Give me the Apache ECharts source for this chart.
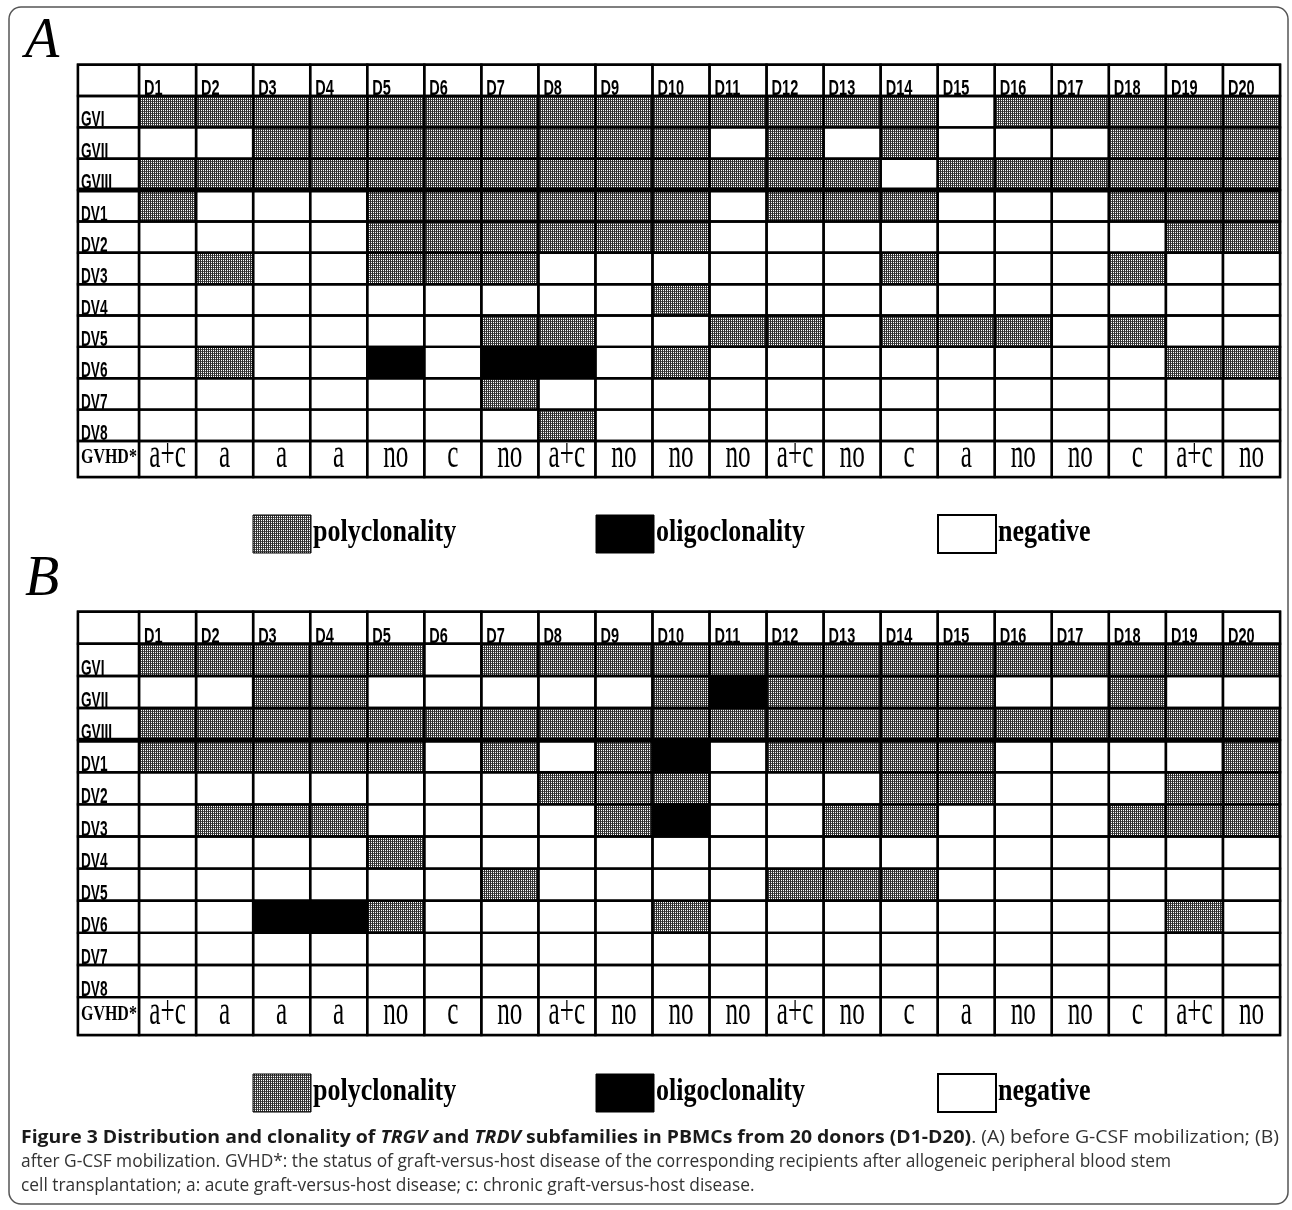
<!DOCTYPE html>
<html>
<head>
<meta charset="utf-8">
<script src="https://cdn.jsdelivr.net/npm/echarts@6/dist/echarts.min.js"></script>
<style>
html,body{margin:0;padding:0;background:#fff;}
#chart{width:1292px;height:1210px;}
</style>
</head>
<body>
<div id="chart"></div>
<script>
// ---------------- DATA ----------------
const donors = ['D1','D2','D3','D4','D5','D6','D7','D8','D9','D10','D11','D12','D13','D14','D15','D16','D17','D18','D19','D20'];
const rowLabels = ['GVI','GVII','GVIII','DV1','DV2','DV3','DV4','DV5','DV6','DV7','DV8'];
const gvhdLabel = 'GVHD*';
const gvhdStatus = ['a+c','a','a','a','no','c','no','a+c','no','no','no','a+c','no','c','a','no','no','c','a+c','no'];
const panelLetters = ['A','B'];
const legendLabels = ['polyclonality','oligoclonality','negative'];
// 0 = negative, 1 = polyclonality, 2 = oligoclonality
const panelA = [
  [1,1,1,1,1,1,1,1,1,1,1,1,1,1,0,1,1,1,1,1], // GVI
  [0,0,1,1,1,1,1,1,1,1,0,1,0,1,0,0,0,1,1,1], // GVII
  [1,1,1,1,1,1,1,1,1,1,1,1,1,0,1,1,1,1,1,1], // GVIII
  [1,0,0,0,1,1,1,1,1,1,0,1,1,1,0,0,0,1,1,1], // DV1
  [0,0,0,0,1,1,1,1,1,1,0,0,0,0,0,0,0,0,1,1], // DV2
  [0,1,0,0,1,1,1,0,0,0,0,0,0,1,0,0,0,1,0,0], // DV3
  [0,0,0,0,0,0,0,0,0,1,0,0,0,0,0,0,0,0,0,0], // DV4
  [0,0,0,0,0,0,1,1,0,0,1,1,0,1,1,1,0,1,0,0], // DV5
  [0,1,0,0,2,0,2,2,0,1,0,0,0,0,0,0,0,0,1,1], // DV6
  [0,0,0,0,0,0,1,0,0,0,0,0,0,0,0,0,0,0,0,0], // DV7
  [0,0,0,0,0,0,0,1,0,0,0,0,0,0,0,0,0,0,0,0]  // DV8
];
const panelB = [
  [1,1,1,1,1,0,1,1,1,1,1,1,1,1,1,1,1,1,1,1], // GVI
  [0,0,1,1,0,0,0,0,0,1,2,1,1,1,1,0,0,1,0,0], // GVII
  [1,1,1,1,1,1,1,1,1,1,1,1,1,1,1,1,1,1,1,1], // GVIII
  [1,1,1,1,1,0,1,0,1,2,0,1,1,1,1,0,0,0,0,1], // DV1
  [0,0,0,0,0,0,0,1,1,1,0,0,0,1,1,0,0,0,1,1], // DV2
  [0,1,1,1,0,0,0,0,1,2,0,0,1,1,0,0,0,1,1,1], // DV3
  [0,0,0,0,1,0,0,0,0,0,0,0,0,0,0,0,0,0,0,0], // DV4
  [0,0,0,0,0,0,1,0,0,0,0,1,1,1,0,0,0,0,0,0], // DV5
  [0,0,2,2,1,0,0,0,0,1,0,0,0,0,0,0,0,0,1,0], // DV6
  [0,0,0,0,0,0,0,0,0,0,0,0,0,0,0,0,0,0,0,0], // DV7
  [0,0,0,0,0,0,0,0,0,0,0,0,0,0,0,0,0,0,0,0]  // DV8
];
const captionLine1 = [
  ['b','Figure 3 Distribution and clonality of '],['bi','TRGV'],['b',' and '],['bi','TRDV'],
  ['b',' subfamilies in PBMCs from 20 donors (D1-D20)'],['r','. (A) before G-CSF mobilization; (B)']
];
const captionLine2 = 'after G-CSF mobilization. GVHD*: the status of graft-versus-host disease of the corresponding recipients after allogeneic peripheral blood stem';
const captionLine3 = 'cell transplantation; a: acute graft-versus-host disease; c: chronic graft-versus-host disease.';

// ---------------- LAYOUT / STYLE ----------------
const LABEL_W = 1.07;           // label column width, in donor-column units
const GVHD_H = [1.15, 1.18];    // GVHD row height, in row units
const gvCount = rowLabels.filter(l => l.startsWith('GV')).length;

function makePattern() {
  const cv = document.createElement('canvas');
  cv.width = 2; cv.height = 2;
  const g = cv.getContext('2d');
  g.fillStyle = '#e6e6e6'; g.fillRect(0, 0, 2, 2);
  g.fillStyle = '#2e2e2e'; g.fillRect(0, 0, 1, 2);
  g.fillStyle = '#555'; g.fillRect(1, 1, 1, 1);
  g.fillStyle = '#fff'; g.fillRect(1, 0, 1, 1);
  return cv;
}
const polyFill = { image: makePattern(), repeat: 'repeat' };
const fillFor = v => v === 2 ? '#000' : (v === 1 ? polyFill : '#fff');

function rectFrom(api, x0, x1, y0, y1) {
  const p0 = api.coord([x0, y0]), p1 = api.coord([x1, y1]);
  return { x: p0[0], y: p0[1], width: p1[0] - p0[0], height: p1[1] - p0[1] };
}

function cellSeries(gi, values) {
  const data = [];
  values.forEach((row, r) => row.forEach((v, c) => data.push([c, r + 1, v])));
  return {
    type: 'custom', xAxisIndex: gi, yAxisIndex: gi, data: data,
    encode: { x: 0, y: 1 },
    renderItem: function (params, api) {
      const c = api.value(0), r = api.value(1), v = api.value(2);
      const s = rectFrom(api, c, c + 1, r, r + 1);
      const ch = [
        { type: 'rect', shape: s, style: { fill: fillFor(v), stroke: null } },
        { type: 'rect', shape: s, z2: 5, style: { fill: null, stroke: '#000', lineWidth: 2.4 } }
      ];
      if (r === gvCount) {
        ch.push({ type: 'line', z2: 10, shape: { x1: s.x - 1, y1: s.y + s.height, x2: s.x + s.width + 1, y2: s.y + s.height }, style: { stroke: '#000', lineWidth: 5 } });
      }
      return { type: 'group', children: ch };
    }
  };
}

function labelSeries(gi) {
  const gh = GVHD_H[gi];
  const items = [];
  items.push({ v: [-LABEL_W, 0, 0, 1], text: '', kind: 'blank' });
  donors.forEach((d, c) => items.push({ v: [c, c + 1, 0, 1], text: d, kind: 'head' }));
  rowLabels.forEach((l, r) => items.push({ v: [-LABEL_W, 0, r + 1, r + 2], text: l, kind: 'row' }));
  items.push({ v: [-LABEL_W, 0, rowLabels.length + 1, rowLabels.length + 1 + gh], text: gvhdLabel, kind: 'glabel' });
  gvhdStatus.forEach((s, c) => items.push({ v: [c, c + 1, rowLabels.length + 1, rowLabels.length + 1 + gh], text: s, kind: 'gval' }));
  return {
    type: 'custom', xAxisIndex: gi, yAxisIndex: gi,
    data: items.map(it => it.v),
    encode: { x: [0, 1], y: [2, 3] },
    renderItem: function (params, api) {
      const it = items[params.dataIndex];
      const s = rectFrom(api, api.value(0), api.value(1), api.value(2), api.value(3));
      const ch = [
        { type: 'rect', shape: s, style: { fill: '#fff' } },
        { type: 'rect', shape: s, z2: 5, style: { fill: null, stroke: '#000', lineWidth: 2.4 } }
      ];
      const bottom = s.y + s.height, cy = s.y + s.height / 2, cx = s.x + s.width / 2;
      let t = null;
      if (it.kind === 'head') {
        t = { x: s.x + 5, y: bottom - 7, scaleX: 0.66, font: 'bold 22px "Liberation Sans"', align: 'left' };
      } else if (it.kind === 'row') {
        t = { x: s.x + 3, y: bottom - 7, scaleX: 0.62, font: 'bold 22px "Liberation Sans"', align: 'left' };
      } else if (it.kind === 'glabel') {
        t = { x: s.x + 3, y: cy - 1, scaleX: 0.76, font: 'bold 21px "Liberation Serif"', align: 'left' };
      } else if (it.kind === 'gval') {
        t = { x: cx, y: cy - 3, scaleX: 0.6, font: '42px "Liberation Serif"', align: 'center' };
      }
      if (t) {
        ch.push({
          type: 'text', x: t.x, y: t.y, scaleX: t.scaleX, z2: 8,
          style: { text: it.text, font: t.font, fill: '#000', textAlign: t.align, align: t.align, textVerticalAlign: 'middle', verticalAlign: 'middle' }
        });
      }
      if (api.value(3) === gvCount + 1 && api.value(2) === gvCount) {
        ch.push({ type: 'line', z2: 10, shape: { x1: s.x, y1: bottom, x2: s.x + s.width + 1, y2: bottom }, style: { stroke: '#000', lineWidth: 5 } });
      }
      return { type: 'group', children: ch };
    }
  };
}

// ---------------- GRAPHIC (legend, letters, caption, frame) ----------------
const legendX = [253, 596, 938];
const legendY = [515, 1074];
function legendGraphics(y) {
  const out = [];
  const fills = [polyFill, '#000', '#fff'];
  legendLabels.forEach((lab, i) => {
    out.push({ type: 'rect', shape: { x: legendX[i], y: y, width: 58, height: 38 },
      style: { fill: fills[i], stroke: '#000', lineWidth: i === 2 ? 2 : 1 } });
    out.push({ type: 'text', x: legendX[i] + 60, y: y + 18, scaleX: 0.84,
      style: { text: lab, font: 'bold 31px "Liberation Serif"', fill: '#000', textAlign: 'left', align: 'left', textVerticalAlign: 'middle', verticalAlign: 'middle' } });
  });
  return out;
}

const CAP_SIZE = 18;
const capFonts = {
  b: { fontWeight: 'bold', fontStyle: 'normal', color: '#1a1a1a' },
  bi: { fontWeight: 'bold', fontStyle: 'italic', color: '#1a1a1a' },
  r: { fontWeight: 'normal', fontStyle: 'normal', color: '#333' }
};
const mctx = document.createElement('canvas').getContext('2d');
function measure(seg) {
  const f = capFonts[seg[0]];
  mctx.font = f.fontStyle + ' ' + f.fontWeight + ' ' + CAP_SIZE + 'px "Open Sans"';
  return mctx.measureText(seg[1]).width;
}
const w1 = captionLine1.reduce((a, s) => a + measure(s), 0);
const w2 = measure(['r', captionLine2]);
const scale1 = 1258 / w1;
const scale2 = 1150 / w2;
const rich = {};
Object.keys(capFonts).forEach(k => {
  rich[k] = { fontFamily: 'Open Sans', fontSize: CAP_SIZE, fontWeight: capFonts[k].fontWeight, fontStyle: capFonts[k].fontStyle, fill: capFonts[k].color, color: capFonts[k].color };
});
const cap1Text = captionLine1.map(s => '{' + s[0] + '|' + s[1] + '}').join('');

const graphics = [
  { type: 'rect', shape: { x: 9, y: 7, width: 1279, height: 1197, r: 12 }, style: { fill: null, stroke: '#555', lineWidth: 1.5 }, z: -1 },
  { type: 'text', x: 25, y: 42, style: { text: panelLetters[0], font: 'italic 56px "Liberation Serif"', fill: '#000', textVerticalAlign: 'middle', verticalAlign: 'middle' } },
  { type: 'text', x: 25, y: 580, style: { text: panelLetters[1], font: 'italic 56px "Liberation Serif"', fill: '#000', textVerticalAlign: 'middle', verticalAlign: 'middle' } },
  ...legendGraphics(legendY[0]),
  ...legendGraphics(legendY[1]),
  { type: 'text', x: 21, y: 1138, scaleX: scale1,
    style: { text: cap1Text, rich: rich, textVerticalAlign: 'middle', verticalAlign: 'middle' } },
  { type: 'text', x: 21, y: 1162, scaleX: scale2,
    style: { text: captionLine2, font: CAP_SIZE + 'px "Open Sans"', fill: '#333', textVerticalAlign: 'middle', verticalAlign: 'middle' } },
  { type: 'text', x: 21, y: 1186, scaleX: scale2,
    style: { text: captionLine3, font: CAP_SIZE + 'px "Open Sans"', fill: '#333', textVerticalAlign: 'middle', verticalAlign: 'middle' } }
];

// ---------------- CHART ----------------
const chart = echarts.init(document.getElementById('chart'), null, { renderer: 'canvas' });
const option = {
  animation: false,
  backgroundColor: '#fff',
  grid: [
    { left: 78, top: 64.7, width: 1202, height: 412.3, show: true, borderColor: '#000', borderWidth: 2.5, backgroundColor: '#fff' },
    { left: 78, top: 611.7, width: 1202, height: 423.3, show: true, borderColor: '#000', borderWidth: 2.5, backgroundColor: '#fff' }
  ],
  xAxis: [0, 1].map(i => ({ type: 'value', gridIndex: i, min: -LABEL_W, max: donors.length, show: false })),
  yAxis: [0, 1].map(i => ({ type: 'value', gridIndex: i, min: 0, max: rowLabels.length + 1 + GVHD_H[i], inverse: true, show: false })),
  series: [cellSeries(0, panelA), labelSeries(0), cellSeries(1, panelB), labelSeries(1)],
  graphic: graphics
};
chart.setOption(option);
</script>
</body>
</html>
